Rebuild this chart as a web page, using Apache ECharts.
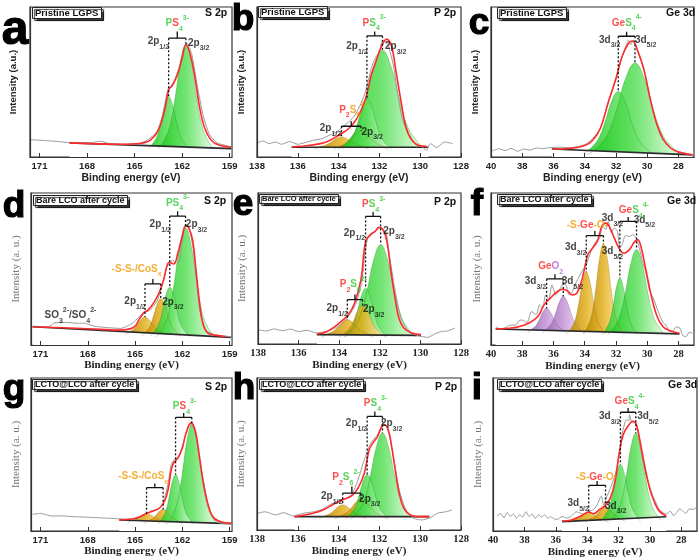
<!DOCTYPE html>
<html><head><meta charset="utf-8">
<script src="https://cdn.jsdelivr.net/npm/echarts@6/dist/echarts.min.js"></script>
<style>html,body{margin:0;padding:0;background:#fff}#c{width:700px;height:559px}</style>
</head><body><div id="c"></div>
<script>
// ---------- tick labels ----------
const sTicks = [171,168,165,162,159];
const pTicks = [138,136,134,132,130,128];
const geTicks = [40,38,36,34,32,30,28];

// ---------- panel a : Pristine LGPS, S 2p ----------
const aRaw = [[171.6,11.6],[170.3,10.7],[169.8,10.3],[169.1,9.6],[167.8,9.4],[167.4,10.1],[167.1,10.5],[166.6,8.9],[165.5,8.5],[164.7,8.9],[164.2,11.2],[163.6,16.7],[163.2,29],[162.9,45],[162.6,48.7],[162.2,59],[161.9,72.5],[161.7,75.9],[161.4,69],[161.1,51],[160.7,29],[160.3,15.6],[159.8,9.4],[159.2,7.6],[158.9,6.7]];
const aEnv = [[169.1,9.4],[166.0,8.5],[164.6,9.2],[164.0,11.2],[163.5,17.9],[163.1,31.3],[162.85,44.6],[162.6,48],[162.3,54.7],[162.0,65.8],[161.76,74.8],[161.5,69],[161.2,53.6],[160.9,33.5],[160.6,20],[160.2,11.6],[159.8,8.5],[159.3,7.1],[158.9,6.5]];
const aBase = [[169.1,9.4],[158.9,5.6]];
const aPk1 = [[161.57,5.6],[161.89,9.7],[162.13,14.4],[162.37,23.7],[162.61,34.9],[162.85,40.2],[163.09,34.9],[163.33,23.7],[163.57,14.4],[163.81,9.7],[164.13,5.6]];
const aPk2 = [[160.0,5.2],[160.44,12.1],[160.77,21.7],[161.1,40.8],[161.43,63.9],[161.76,74.8],[162.09,63.9],[162.42,40.8],[162.75,21.7],[163.08,12.1],[163.52,5.2]];
const aDash = [[162.85,79.2,40.2],[161.76,79.2,74.8]];
const aBrk = [[162.85,161.76,79.2,83.7]];
const aTxt = [[162.3,89,'PS4a'],[163.5,77,'p12'],[160.95,76,'p32']];

// ---------- panel b : Pristine LGPS, P 2p ----------
const bRaw = [[138.0,9.4],[137.7,10.7],[137.4,8.9],[137.1,10],[136.8,8.5],[136.4,10.3],[136.0,8.5],[135.6,9.8],[135.2,11.2],[134.8,12.3],[134.45,14.5],[134.1,16.7],[133.8,20],[133.5,23.4],[133.2,27.9],[132.9,35.7],[132.66,44.6],[132.4,59],[132.2,66],[132.0,70],[131.9,76],[131.75,77.7],[131.57,74.8],[131.3,60],[131.1,42],[130.9,26.8],[130.6,15.6],[130.3,9.4],[129.9,6.7],[129.7,4.5],[129.5,8.9],[129.2,6.3],[128.8,10],[128.4,8.9]];
const bEnv = [[136.3,6.7],[135.4,7.8],[134.6,10],[134.0,14.5],[133.5,19],[133.1,25.7],[132.7,38],[132.4,54.7],[132.2,62.5],[131.9,73.7],[131.65,78.6],[131.4,73.7],[131.2,58],[130.95,38],[130.7,20],[130.4,11.2],[130.0,7.4],[129.7,7.1]];
const bBase = [[136.3,6.5],[129.6,6.5]];
const bOr1 = [[132.52,5],[132.85,7.1],[133.1,8],[133.36,10],[133.61,12.3],[133.86,13.4],[134.11,12.3],[134.36,10],[134.62,8],[134.87,7.1],[135.2,5]];
const bOr2 = [[131.56,5],[131.89,7.4],[132.14,8.9],[132.4,12],[132.65,15.7],[132.9,17.4],[133.15,15.7],[133.4,12],[133.66,8.9],[133.91,7.4],[134.24,5]];
const bPk2 = [[129.75,5],[130.22,11.7],[130.63,20.7],[131.03,38.8],[131.44,60.7],[131.85,71],[132.26,60.7],[132.67,38.8],[133.07,20.7],[133.48,11.7],[134.03,5]];
const bPk1 = [[131.39,5],[131.7,9.1],[131.93,13.5],[132.15,22.5],[132.38,33.3],[132.61,38.4],[132.84,33.3],[133.07,22.5],[133.29,13.5],[133.52,9.1],[133.83,5]];
const bDash = [[132.61,80.8,38.4],[131.85,80.8,71],[133.86,20.5,13.4],[132.9,20.5,17.4]];
const bBrk = [[132.61,131.85,80.8,83.7],[133.86,132.9,20.5,23.9]];
const bTxt = [[132.25,89.3,'PS4b'],[133.1,73.7,'p12'],[131.2,73.7,'p32'],[133.3,31.3,'P2S6b'],[134.4,19,'p12'],[132.35,16.7,'p32']];

// ---------- panel c : Pristine LGPS, Ge 3d ----------
const cRaw = [[39.9,4.1],[39.5,5.5],[39.1,4.3],[38.7,5.8],[38.3,3.8],[37.9,5.3],[37.5,4.6],[37.1,6.0],[36.7,5.6],[36.3,6.2],[35.5,6.5],[34.9,6.2],[34.4,6.9],[33.9,8.7],[33.5,12.2],[33.0,19],[32.5,36],[32.0,52],[31.6,67],[31.35,74],[31.2,78],[31.05,75],[30.9,78],[30.6,71],[30.2,58],[29.8,39],[29.4,23],[29.0,12],[28.5,6],[28.0,3.6],[27.5,2.5],[27.1,0.9]];
const cEnv = [[36.1,5.3],[35.0,5.7],[34.0,7.6],[33.5,11],[33.0,19],[32.5,36.2],[32.0,52.3],[31.6,67.2],[31.2,75.7],[30.95,77.3],[30.6,70.6],[30.2,58],[29.8,38.5],[29.4,22.5],[29.0,12.2],[28.5,6],[28.0,3.4],[27.1,1.4]];
const cBase = [[36.1,5.3],[27.1,1.4]];
const cPk1 = [[29.61,2],[30.17,6.7],[30.59,12.3],[31.01,23.6],[31.43,37.2],[31.85,43.6],[32.27,37.2],[32.69,23.6],[33.11,12.3],[33.53,6.7],[34.09,2]];
const cPk2 = [[27.74,1.5],[28.5,7.8],[29.07,16.1],[29.64,32.8],[30.21,53.1],[30.78,62.6],[31.35,53.1],[31.92,32.8],[32.49,16.1],[33.06,7.8],[33.82,1.5]];
const cDash = [[31.85,80.5,43.6],[30.78,80.5,62.6]];
const cBrk = [[31.85,30.78,80.5,83.5]];
const cTxt = [[31.3,89.4,'GeS4'],[32.4,78,'d32'],[30.1,78,'d52']];

// ---------- panel d : Bare LCO after cycle, S 2p ----------
const dRaw = [[171.5,12.4],[170.5,12],[170.1,14.6],[169.3,14.8],[168.6,14.3],[168.2,14.3],[167.6,12.4],[166.8,11.5],[165.9,10.9],[165.5,12.4],[165.1,14.8],[164.5,21],[164.1,22.6],[163.6,29],[163.2,42],[163.0,51],[162.8,54],[162.6,56],[162.4,53],[162.2,55],[161.97,70.6],[161.76,79.3],[161.55,76],[161.3,62],[161.1,42],[160.9,22.8],[160.5,9.8],[159.9,6.5],[159.25,5.9],[158.9,5]];
const dEnv = [[171.5,12],[168,10.7],[166,9.8],[165.1,11.5],[164.7,17.4],[164.4,21.7],[164.2,22.8],[163.85,27.2],[163.5,33.7],[163.2,42.4],[163.0,51.1],[162.85,54.3],[162.55,53.3],[162.3,59.8],[162.0,71.7],[161.8,78.3],[161.6,77.2],[161.34,68.5],[161.13,48.9],[160.9,27.2],[160.7,14.1],[160.4,8.0],[159.9,6.5],[159.25,5.4]];
const dBase = [[171.5,12],[158.9,5]];
const dOr1 = [[163.09,6.5],[163.41,8.8],[163.65,10.3],[163.89,13.3],[164.13,16.8],[164.37,18.5],[164.61,16.8],[164.85,13.3],[165.09,10.3],[165.33,8.8],[165.65,6.5]];
const dOr2 = [[162.15,6],[162.46,9.3],[162.69,12.5],[162.91,19],[163.14,26.7],[163.37,30.4],[163.6,26.7],[163.83,19],[164.05,12.5],[164.28,9.3],[164.59,6]];
const dPk2 = [[159.94,5.1],[160.41,12.2],[160.76,22.1],[161.1,41.8],[161.45,65.7],[161.8,77],[162.15,65.7],[162.5,41.8],[162.84,22.1],[163.19,12.2],[163.66,5.1]];
const dPk1 = [[161.58,5.7],[161.89,9.7],[162.12,14],[162.34,22.6],[162.57,33.1],[162.8,38],[163.03,33.1],[163.26,22.6],[163.48,14],[163.71,9.7],[164.02,5.7]];
const dDash = [[162.8,84.8,38],[161.8,84.8,77],[164.37,40.2,18.5],[163.37,40.2,30.4]];
const dBrk = [[162.8,161.8,84.8,88],[164.37,163.37,40.2,43.5]];
const dTxt = [[162.3,93.5,'PS4d'],[163.4,79.3,'p12'],[161.1,79.3,'p32'],[164.9,50,'SSCo'],[165.0,28.9,'p12'],[162.6,28.3,'p32'],[169.1,19.6,'SO']];

// ---------- panel e : Bare LCO after cycle, P 2p ----------
const eRaw = [[138,9.5],[137.6,8.6],[137.2,10],[136.8,8.8],[136.4,9.9],[136.0,8.2],[135.6,9.1],[135.1,7.3],[134.65,8.3],[134.2,10.6],[133.9,13],[133.6,17.2],[133.2,26],[132.9,40],[132.75,58],[132.6,70],[132.4,73],[132.2,75],[132.0,76.8],[131.7,74],[131.55,61],[131.3,39.5],[130.95,17],[130.56,8],[130.1,5.5],[129.65,4.4],[129.19,7.3],[128.9,8.4],[128.7,8.5],[128.3,10.6]];
const eEnv = [[135.1,6.6],[134.65,7.9],[134.2,11.7],[133.9,15],[133.55,19.4],[133.24,27.2],[132.93,42.6],[132.7,68],[132.46,72.4],[132.23,74.6],[132.03,77.3],[131.84,75.7],[131.65,68],[131.45,48.1],[131.25,30.5],[131.06,17.2],[130.82,10.6],[130.43,7.3],[129.97,6.2]];
const eBase = [[135.1,6.2],[129.97,5.7]];
const eOr1 = [[132.32,4.5],[132.64,6.8],[132.88,8.2],[133.12,11],[133.36,14.4],[133.6,16],[133.84,14.4],[134.08,11],[134.32,8.2],[134.56,6.8],[134.88,4.5]];
const eOr2 = [[131.7,4.5],[131.99,7.6],[132.2,10.3],[132.42,15.8],[132.63,22.4],[132.85,25.5],[133.07,22.4],[133.28,15.8],[133.5,10.3],[133.71,7.6],[134.0,4.5]];
const ePk2 = [[130.2,4.5],[130.64,10.8],[130.97,19.2],[131.3,35.9],[131.63,56.2],[131.96,65.8],[132.29,56.2],[132.62,35.9],[132.95,19.2],[133.28,10.8],[133.72,4.5]];
const ePk1 = [[131.64,4.5],[131.91,8.5],[132.11,12.8],[132.3,21.5],[132.5,32],[132.7,37],[132.9,32],[133.1,21.5],[133.29,12.8],[133.49,8.5],[133.76,4.5]];
const eDash = [[132.7,84.5,37],[131.96,84.5,65.8],[133.6,29.4,16],[132.85,29.4,25.5]];
const eBrk = [[132.7,131.96,84.5,87.4],[133.6,132.85,29.4,32.7]];
const eTxt = [[132.3,92.3,'PS4b'],[133.25,73.5,'p12'],[131.3,74.6,'p32'],[133.3,39.3,'P2S6e'],[134.1,23.4,'p12'],[132.3,22.7,'p32']];

// ---------- panel f : Bare LCO after cycle, Ge 3d ----------
const fRaw = [[39.7,12.1],[39.4,10.5],[39.1,11.4],[38.8,13],[38.4,13.2],[38.2,16],[38.0,16.5],[37.7,14.5],[37.4,22],[37.1,20],[36.9,26.4],[36.7,24],[36.5,33],[36.3,30],[36.1,39.6],[35.85,33],[35.65,35.2],[35.4,40],[35.2,39.6],[35.0,33],[34.8,35],[34.6,40],[34.4,44],[34.15,49],[33.9,52.7],[33.6,61.5],[33.3,68],[33.05,70],[32.86,78],[32.65,76],[32.5,81.3],[32.3,74],[32.1,77],[31.9,74.7],[31.75,64],[31.6,66],[31.4,72],[31.15,71.4],[30.9,72.5],[30.7,70.3],[30.5,63.7],[30.3,55],[30.1,48.4],[29.85,36],[29.6,30.8],[29.4,25],[29.2,19.8],[29.0,15],[28.8,13.2],[28.6,9],[28.4,8.8],[28.15,12],[27.9,11],[27.7,6],[27.5,5.5],[27.3,8.5],[27.1,7.7]];
const fEnv = [[39.7,10.5],[38.86,11],[38.2,12.1],[37.6,14.3],[37.0,18.7],[36.6,26.4],[36.2,30.8],[35.75,35.2],[35.4,36.7],[35.1,35.6],[34.8,33],[34.5,34.1],[34.15,44],[33.8,59.3],[33.5,63.7],[33.2,68],[32.9,78],[32.65,80.2],[32.43,78],[32.1,70.3],[31.8,63.7],[31.5,60.4],[31.15,62.6],[30.8,68],[30.6,69.2],[30.4,64.8],[30.1,50.5],[29.75,33],[29.4,19.8],[29.0,12.1],[28.57,9.5],[27.93,7.7]];
const fBase = [[39.7,10.5],[27.93,7.3]];
const fPu1 = [[35.22,8.1],[35.53,10.8],[35.76,12.8],[35.98,16.9],[36.21,21.9],[36.44,24.2],[36.67,21.9],[36.9,16.9],[37.12,12.8],[37.35,10.8],[37.66,8.1]];
const fPu2 = [[34.03,7.8],[34.36,11.1],[34.61,14.3],[34.87,20.6],[35.12,28.3],[35.37,31.9],[35.62,28.3],[35.87,20.6],[36.13,14.3],[36.38,11.1],[36.71,7.8]];
const fOr1 = [[32.68,7.4],[32.99,12],[33.22,17.5],[33.44,28.4],[33.67,41.7],[33.9,47.9],[34.13,41.7],[34.36,28.4],[34.58,17.5],[34.81,12],[35.12,7.4]];
const fOr2 = [[31.52,7.1],[31.84,13.2],[32.08,21.3],[32.32,37.5],[32.56,57.2],[32.8,66.4],[33.04,57.2],[33.28,37.5],[33.52,21.3],[33.76,13.2],[34.08,7.1]];
const fGr1 = [[30.63,6.8],[30.91,11.2],[31.12,16.2],[31.33,26.2],[31.54,38.3],[31.75,44],[31.96,38.3],[32.17,26.2],[32.38,16.2],[32.59,11.2],[32.87,6.8]];
const fGr2 = [[28.82,6.5],[29.29,12.4],[29.64,20],[29.98,35.3],[30.33,53.9],[30.68,62.6],[31.03,53.9],[31.38,35.3],[31.72,20],[32.07,12.4],[32.54,6.5]];
const fDash = [[36.44,43.5,24.2],[35.37,43.5,31.9],[33.9,72,47.9],[32.8,72,66.4],[31.75,81.3,44],[30.68,81.3,62.6]];
const fBrk = [[36.44,35.37,43.5,46.6],[33.9,32.8,72,75],[31.75,30.68,81.3,84.2]];
const fTxt = [[36.18,51.6,'GeO2'],[37.15,41.8,'d32'],[34.79,41.8,'d52'],[33.83,78.7,'SGeO'],[34.58,64.2,'d32'],[32.22,61.5,'d52'],[30.85,88.4,'GeS4'],[32.22,83.5,'d32'],[30.18,82.4,'d52']];

// ---------- panel g : LCTO@LCO after cycle, S 2p ----------
const gRaw = [[171.5,10.9],[171.0,11.5],[170.6,10.6],[170.3,9.8],[169.6,9.9],[169.0,9.4],[168.2,9.1],[167.2,8.6],[166.1,8.0],[165.1,7.6],[164.5,9.8],[164.0,13],[163.5,14.6],[163.2,18.5],[162.9,31.5],[162.7,43.5],[162.5,46.7],[162.2,49],[162.0,55.4],[161.76,64],[161.55,69.6],[161.34,68.5],[161.1,59.8],[160.9,46.7],[160.6,29.3],[160.3,14.1],[159.9,6.5],[159.5,5],[158.9,5]];
const gEnv = [[166.0,7.2],[165.1,8.0],[164.7,9.3],[164.27,11.5],[163.85,13],[163.43,15.2],[163.12,19.6],[162.9,27.2],[162.7,40.2],[162.55,44.6],[162.28,47.8],[162.0,54.3],[161.76,64.1],[161.45,70.7],[161.17,65.2],[160.92,48.9],[160.67,31.5],[160.4,18.5],[160.1,9.8],[159.7,6.5],[158.9,5]];
const gBase = [[166.0,7.2],[158.9,4.8]];
const gOr1 = [[163.05,5.1],[163.36,7.0],[163.59,7.7],[163.81,9.1],[164.04,10.7],[164.27,11.5],[164.5,10.7],[164.73,9.1],[164.95,7.7],[165.18,7.0],[165.49,5.1]];
const gOr2 = [[162.0,4.8],[162.31,6.9],[162.54,8],[162.76,10.2],[162.99,12.9],[163.22,14.1],[163.45,12.9],[163.68,10.2],[163.9,8],[164.13,6.9],[164.44,4.8]];
const gPk2 = [[159.8,4.2],[160.2,10.8],[160.5,19.8],[160.8,37.7],[161.1,59.4],[161.4,69.6],[161.7,59.4],[162.0,37.7],[162.3,19.8],[162.6,10.8],[163.0,4.2]];
const gPk1 = [[161.31,4.5],[161.59,8.5],[161.8,12.8],[162.01,21.5],[162.22,32],[162.43,37],[162.64,32],[162.85,21.5],[163.06,12.8],[163.27,8.5],[163.55,4.5]];
const gDash = [[162.43,74.3,37],[161.4,74.3,69.6],[164.27,28.3,11.5],[163.22,28.3,14.1]];
const gBrk = [[162.43,161.4,74.3,77.2],[164.27,163.22,28.3,31.1]];
const gTxt = [[161.86,81.5,'PS4a'],[164.48,35.9,'SSCo']];

// ---------- panel h : LCTO@LCO after cycle, P 2p ----------
const hRaw = [[138,11],[137.6,12],[137.1,9.9],[136.7,11.4],[136.2,9.2],[135.75,11],[135.2,12],[134.8,13.6],[134.45,16.5],[134.1,18.7],[133.7,20.5],[133.35,23.5],[133.05,33],[132.74,46.2],[132.43,57],[132.1,62.6],[131.9,68],[131.7,69.2],[131.5,61.5],[131.26,44],[131.03,26.4],[130.7,13.2],[130.3,7.7],[129.94,6.6],[129.5,8.1],[129.16,11],[128.7,12.1],[128.45,13.2]];
const hEnv = [[136.16,8.8],[135.4,10.5],[134.76,13.2],[134.3,16.5],[133.83,19.8],[133.36,22.4],[133.05,27.5],[132.74,37.4],[132.5,52.7],[132.3,57.6],[132.09,61.5],[131.88,68.1],[131.77,69.2],[131.57,65.9],[131.4,55],[131.2,37.4],[131.03,24.2],[130.8,14.3],[130.48,9.9],[130.0,8.8],[129.55,8.8]];
const hBase = [[136.16,8.8],[129.55,8.8]];
const hOr1 = [[132.65,7.3],[132.94,9.4],[133.15,10.5],[133.37,12.7],[133.58,15.3],[133.8,16.5],[134.02,15.3],[134.23,12.7],[134.45,10.5],[134.66,9.4],[134.95,7.3]];
const hOr2 = [[131.62,7.3],[131.94,9.7],[132.18,11.3],[132.42,14.5],[132.66,18.4],[132.9,20.2],[133.14,18.4],[133.38,14.5],[133.62,11.3],[133.86,9.7],[134.18,7.3]];
const hPk2 = [[130.31,7.3],[130.7,13.2],[130.99,20.9],[131.27,36.3],[131.56,54.9],[131.85,63.7],[132.14,54.9],[132.43,36.3],[132.71,20.9],[133.0,13.2],[133.39,7.3]];
const hPk1 = [[131.54,7.3],[131.81,11],[132.01,14.9],[132.2,22.6],[132.4,31.9],[132.6,36.3],[132.8,31.9],[133.0,22.6],[133.19,14.9],[133.39,11],[133.66,7.3]];
const hDash = [[132.6,74.7,36.3],[131.85,74.7,63.7],[133.8,24.2,16.5],[132.9,24.2,20.2]];
const hBrk = [[132.6,131.85,74.7,78],[133.8,132.9,24.2,28.6]];
const hTxt = [[132.19,83.5,'PS4b'],[133.12,70.3,'p12'],[131.4,70.3,'p32'],[133.64,34.7,'P2S6e'],[134.34,22,'p12'],[132.47,20.4,'p32']];

// ---------- panel i : LCTO@LCO after cycle, Ge 3d ----------
const iRaw = [[39.75,9.8],[39.5,11.5],[39.3,8.5],[39.1,12],[38.9,9.6],[38.7,11],[38.5,8.4],[38.3,10.5],[38.1,9.2],[37.9,12.6],[37.7,9.5],[37.5,11],[37.3,8.2],[37.1,10.7],[36.9,9.1],[36.7,10.5],[36.5,8.3],[36.3,9.4],[36.1,7.9],[35.9,7.6],[35.6,9.5],[35.3,8.4],[35.0,9.8],[34.7,12.5],[34.5,12],[34.2,11],[33.8,13],[33.6,14],[33.4,16.3],[33.1,22.8],[32.95,17],[32.8,21],[32.55,27.2],[32.24,35.9],[32.0,46.7],[31.8,62],[31.5,72.8],[31.35,72],[31.3,76.1],[31.15,71],[30.95,71.5],[30.8,67.4],[30.55,51],[30.23,35.9],[29.8,22.8],[29.4,14.1],[28.96,10.9],[28.7,13],[28.5,10],[28.3,12],[28.1,14.5],[27.9,13],[27.7,11.5],[27.5,14.5],[27.27,14.1],[27.05,15]];
const iEnv = [[35.6,6.5],[35.0,7.2],[34.4,9.8],[33.9,12.4],[33.6,11.3],[33.2,14.1],[32.9,16.3],[32.56,20.7],[32.24,31.5],[31.97,50],[31.7,63],[31.4,68.5],[31.08,71.7],[30.87,69.6],[30.65,59.8],[30.33,42.4],[30.0,27.2],[29.7,18.5],[29.4,13],[28.96,9.8]];
const iBase = [[35.6,6.1],[28.96,9.3]];
const iOr1 = [[32.62,5.4],[32.94,7.3],[33.18,8],[33.42,9.5],[33.66,11.2],[33.9,12],[34.14,11.2],[34.38,9.5],[34.62,8],[34.86,7.3],[35.18,5.4]];
const iOr2 = [[31.55,5.9],[31.87,8.1],[32.11,9.3],[32.35,11.7],[32.59,14.5],[32.83,15.9],[33.07,14.5],[33.31,11.7],[33.55,9.3],[33.79,8.1],[34.11,5.9]];
const iPk2 = [[29.3,6.9],[29.7,12.8],[30.0,20.6],[30.3,36.2],[30.6,55.1],[30.9,64],[31.2,55.1],[31.5,36.2],[31.8,20.6],[32.1,12.8],[32.5,6.9]];
const iPk1 = [[30.6,6.4],[30.92,10.7],[31.16,15.7],[31.4,25.7],[31.64,37.8],[31.88,43.5],[32.12,37.8],[32.36,25.7],[32.6,15.7],[32.84,10.7],[33.16,6.4]];
const iDash = [[31.88,77.6,43.5],[30.9,77.6,64],[33.9,29.8,12],[32.83,29.8,15.9]];
const iBrk = [[31.88,30.9,77.6,80.4],[33.9,32.83,29.8,32.6]];
const iTxt = [[31.29,84.8,'GeS4'],[32.56,75,'d32'],[30.13,75,'d52'],[33.4,35.4,'SGeO'],[34.57,18,'d52'],[32.18,16.3,'d32']];

// ---------- assembly ----------
const panels = [
 {raw:aRaw,env:aEnv,base:aBase,comps:[[aPk1,'g'],[aPk2,'g']],dash:aDash,brk:aBrk,txt:aTxt,ticks:sTicks,ext:[158.85,171.6]},
 {raw:bRaw,env:bEnv,base:bBase,comps:[[bOr1,'o'],[bOr2,'o'],[bPk2,'g'],[bPk1,'g']],dash:bDash,brk:bBrk,txt:bTxt,ticks:pTicks,ext:[128,138]},
 {raw:cRaw,env:cEnv,base:cBase,comps:[[cPk1,'g'],[cPk2,'g']],dash:cDash,brk:cBrk,txt:cTxt,ticks:geTicks,ext:[27,40]},
 {raw:dRaw,env:dEnv,base:dBase,comps:[[dOr1,'o'],[dOr2,'o'],[dPk2,'g'],[dPk1,'g']],dash:dDash,brk:dBrk,txt:dTxt,ticks:sTicks,ext:[158.85,171.6]},
 {raw:eRaw,env:eEnv,base:eBase,comps:[[eOr1,'o'],[ePk2,'g'],[ePk1,'g'],[eOr2,'o']],dash:eDash,brk:eBrk,txt:eTxt,ticks:pTicks,ext:[128,138]},
 {raw:fRaw,env:fEnv,base:fBase,comps:[[fPu1,'p'],[fPu2,'p'],[fOr1,'o'],[fOr2,'o'],[fGr1,'g'],[fGr2,'g']],dash:fDash,brk:fBrk,txt:fTxt,ticks:geTicks,ext:[27,40]},
 {raw:gRaw,env:gEnv,base:gBase,comps:[[gOr1,'o'],[gOr2,'o'],[gPk2,'g'],[gPk1,'g']],dash:gDash,brk:gBrk,txt:gTxt,ticks:sTicks,ext:[158.85,171.6]},
 {raw:hRaw,env:hEnv,base:hBase,comps:[[hOr1,'o'],[hOr2,'o'],[hPk2,'g'],[hPk1,'g']],dash:hDash,brk:hBrk,txt:hTxt,ticks:pTicks,ext:[128,138]},
 {raw:iRaw,env:iEnv,base:iBase,comps:[[iOr1,'o'],[iOr2,'o'],[iPk2,'g'],[iPk1,'g']],dash:iDash,brk:iBrk,txt:iTxt,ticks:geTicks,ext:[27,40]}
];

const layout = [
 {l:30,t:7,w:202,h:150,row:0,serif:false,yg:12,letter:'a',lx:15,ly:31,lfs:48,sample:'Pristine LGPS',sx:32,sy:7,sfs:9.5,core:'S 2p',cx:205,cy:8},
 {l:257,t:7,w:204,h:150,row:0,serif:false,yg:11,letter:'b',lx:243,ly:20,lfs:37,sample:'Pristine LGPS',sx:258,sy:6,sfs:9.5,core:'P 2p',cx:434,cy:8},
 {l:491,t:7,w:203,h:150,row:0,serif:false,yg:11,letter:'c',lx:479,ly:24,lfs:37,sample:'Pristine LGPS',sx:497,sy:7,sfs:9.5,core:'Ge 3d',cx:666,cy:8},
 {l:31,t:193,w:201,h:152,row:1,serif:false,yg:9,letter:'d',lx:14,ly:207,lfs:37,sample:'Bare LCO after cycle',sx:33,sy:195,sfs:9,core:'S 2p',cx:204,cy:196},
 {l:258,t:193,w:203,h:151,row:1,serif:true,yg:10,letter:'e',lx:243,ly:205,lfs:37,sample:'Bare LCO after cycle',sx:259,sy:194,sfs:7.5,core:'P 2p',cx:434,cy:197},
 {l:491,t:193,w:203,h:152,row:1,serif:true,yg:8,letter:'f',lx:477,ly:205,lfs:37,sample:'Bare LCO after cycle',sx:497,sy:194,sfs:9,core:'Ge 3d',cx:667,cy:196},
 {l:31,t:378,w:201,h:153,row:2,serif:false,yg:9,letter:'g',lx:14,ly:390,lfs:37,sample:'LCTO@LCO after cycle',sx:32,sy:379,sfs:9,core:'S 2p',cx:205,cy:382},
 {l:257,t:378,w:204,h:152,row:2,serif:true,yg:10,letter:'h',lx:244,ly:389,lfs:37,sample:'LCTO@LCO after cycle',sx:259,sy:379,sfs:9,core:'P 2p',cx:435,cy:382},
 {l:493,t:378,w:204,h:153,row:2,serif:true,yg:9,letter:'i',lx:477,ly:389,lfs:37,sample:'LCTO@LCO after cycle',sx:497,sy:379,sfs:9,core:'Ge 3d',cx:668,cy:380}
];

const SANS = 'Liberation Sans';
const SERIF = 'Liberation Serif';
const lin = stops => ({type:'linear',x:0,y:0,x2:1,y2:0,colorStops:stops.map(s=>({offset:s[0],color:s[1]}))});
const FILL = {
 g: lin([[0,'#1fc81f'],[0.5,'#5ee05e'],[1,'#e4fde4']]),
 o: lin([[0,'#b58400'],[0.5,'#e4b224'],[1,'#fff1bd']]),
 p: lin([[0,'#9363aa'],[0.5,'#c496d6'],[1,'#f4e8f8']])
};
const EDGE = {g:'rgba(30,140,30,0.55)', o:'rgba(150,105,0,0.55)', p:'rgba(120,70,140,0.55)'};
const COL = {k:'#111111', r:'#ff2222', g:'#30c830', o:'#f09a00', p:'#b05cc8'};
const RICH = {};
Object.keys(COL).forEach(k=>{
 RICH[k] = {color:COL[k],fontSize:10,fontWeight:'bold',fontFamily:SANS,lineHeight:18,verticalAlign:'middle'};
 RICH[k+'b'] = {color:COL[k],fontSize:7,fontWeight:'bold',fontFamily:SANS,lineHeight:9,verticalAlign:'bottom'};
 RICH[k+'p'] = {color:COL[k],fontSize:7,fontWeight:'bold',fontFamily:SANS,lineHeight:9,verticalAlign:'top'};
});
const LAB = {
 PS4a:'{g|P}{r|S}{gb|4}{gp|3-}',
 PS4b:'{r|P}{g|S}{gb|4}{gp|3-}',
 PS4d:'{g|PS}{gb|4}{gp|3-}',
 P2S6b:'{r|P}{rb|2}{o|S}{ob|6}{op|2-}',
 P2S6e:'{r|P}{rb|2}{g|S}{gb|6}{gp|2-}',
 GeS4:'{r|Ge}{g|S}{gb|4}{gp|4-}',
 SGeO:'{o|-S-}{r|Ge}{o|-O-}',
 GeO2:'{r|Ge}{p|O}{pb|2}',
 SSCo:'{o|-S-S-/CoS}{ob|x}',
 SO:'{k|SO}{kb|3}{kp|2-}{k|/SO}{kb|4}{kp|2-}',
 p12:'{k|2p}{kb|1/2}', p32:'{k|2p}{kb|3/2}', d32:'{k|3d}{kb|3/2}', d52:'{k|3d}{kb|5/2}'
};

const grids=[], xAxes=[], yAxes=[], series=[], titles=[], graphics=[];
panels.forEach((P,i)=>{
 const L = layout[i];
 const axisFont = L.serif ? SERIF : SANS;
 grids.push({left:L.l, top:L.t, width:L.w, height:L.h, show:true, borderColor:'#333', borderWidth:1.2, backgroundColor:'#fff'});
 xAxes.push({type:'value', gridIndex:i, inverse:true, min:P.ext[0], max:P.ext[1], z:10,
  axisLine:{show:true, lineStyle:{color:'#333', width:1.2}},
  axisTick:{show:true, inside:true, length:4, customValues:P.ticks, lineStyle:{color:'#333'}},
  axisLabel:{customValues:P.ticks, margin:4, color:'#222', fontSize:L.serif?10.5:9.5, fontWeight:'bold', fontFamily:axisFont},
  splitLine:{show:false},
  name:'Binding energy (eV)', nameLocation:'middle', nameGap:L.row===0?16:13,
  nameTextStyle:{fontSize:L.row===0?10.5:11, fontWeight:'bold', color:'#222', fontFamily:L.row===0?SANS:SERIF}
 });
 yAxes.push({type:'value', gridIndex:i, min:0, max:100, z:10,
  axisLine:{show:true, lineStyle:{color:'#333', width:1.2}}, axisTick:{show:false}, axisLabel:{show:false}, splitLine:{show:false},
  name:L.row===0?'Intensity (a.u.)':'Intensity (a. u.)', nameLocation:'middle', nameRotate:90, nameGap:L.yg,
  nameTextStyle:L.row===0?{fontSize:9.5,fontWeight:'bold',color:'#222',fontFamily:SANS}:{fontSize:11,color:'#777',fontFamily:SERIF}
 });
 const common = {xAxisIndex:i, yAxisIndex:i, symbol:'none', silent:true, animation:false};
 P.comps.forEach(([d,c])=>series.push(Object.assign({type:'line', data:d, smooth:0.45, z:2,
   lineStyle:{width:0.6, color:EDGE[c]}, areaStyle:{color:FILL[c], opacity:0.88}}, common)));
 series.push(Object.assign({type:'line', data:P.base, z:2, lineStyle:{width:1.6, color:'#2a2a2a'}, areaStyle:{color:'#ffffff', opacity:1}}, common));
 series.push(Object.assign({type:'line', data:P.raw, z:3, smooth:0.2, lineStyle:{width:1, color:'#9a9a9a'}}, common));
 series.push(Object.assign({type:'line', data:P.env, z:4, smooth:0.4, lineStyle:{width:1.6, color:'#ff2b2b'}}, common));
 P.dash.forEach(d=>series.push(Object.assign({type:'line', z:5, data:[[d[0],d[1]],[d[0],d[2]]], lineStyle:{width:1.3, color:'#111', type:[2,2]}}, common)));
 P.brk.forEach(b=>{
  const m=(b[0]+b[1])/2;
  series.push(Object.assign({type:'line', z:5, data:[[b[0],b[2]],[b[1],b[2]]], lineStyle:{width:1.3, color:'#111'}}, common));
  series.push(Object.assign({type:'line', z:5, data:[[m,b[2]],[m,b[3]]], lineStyle:{width:1.3, color:'#111'}}, common));
 });
 series.push({type:'scatter', xAxisIndex:i, yAxisIndex:i, z:6, silent:true, symbolSize:1, itemStyle:{color:'rgba(0,0,0,0)'},
  data:P.txt.map(t=>({value:[t[0],t[1]], name:t[2]})),
  label:{show:true, position:'inside', formatter:p=>LAB[p.name], rich:RICH}});
 titles.push({text:L.sample, left:L.sx, top:L.sy, padding:[1,3,1,3], backgroundColor:'#fff', borderColor:'#222', borderWidth:1,
  shadowColor:'rgba(0,0,0,0.75)', shadowBlur:1, shadowOffsetX:2, shadowOffsetY:2,
  textStyle:{fontSize:L.sfs, fontWeight:'bold', fontFamily:SANS, color:'#111'}});
 titles.push({text:L.core, left:L.cx, top:L.cy, padding:0, textStyle:{fontSize:10.5, fontWeight:'bold', fontFamily:SANS, color:'#111'}});
 graphics.push({type:'text', x:L.lx, y:L.ly, z:100, style:{text:L.letter, fontSize:L.lfs, fontWeight:'bold', fontFamily:SANS, fill:'#000', stroke:'#000', lineWidth:1.2, align:'center', verticalAlign:'middle'}});
});

const chart = echarts.init(document.getElementById('c'), null, {renderer:'canvas', width:700, height:559});
chart.setOption({animation:false, backgroundColor:'#fff', grid:grids, xAxis:xAxes, yAxis:yAxes, series:series, title:titles, graphic:graphics});
</script></body></html>
